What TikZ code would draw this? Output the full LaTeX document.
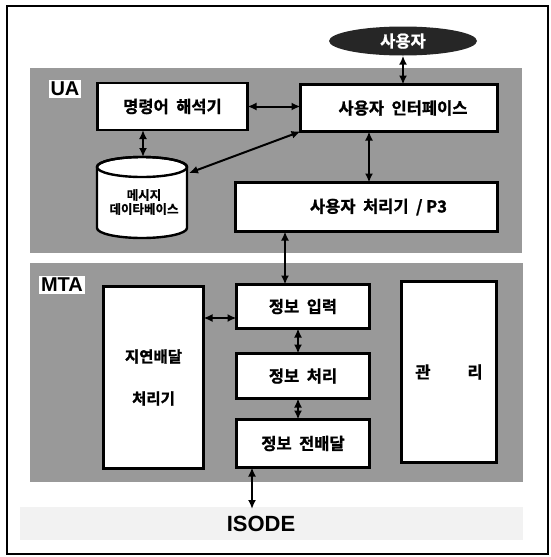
\documentclass[tikz,border=0pt]{standalone}
\usepackage{fontspec}
\setmainfont{Liberation Sans}
\newfontfamily\kr{Noto Sans CJK KR Bold}[FakeBold=1.2]
\usetikzlibrary{arrows.meta,shapes.geometric}
\begin{document}
\begin{tikzpicture}[x=1pt,y=-1pt,
  box/.style={draw, line width=2.6pt, fill=white, inner sep=0pt, outer sep=0pt,
    align=center, font=\kr\fontsize{16.5}{19}\selectfont},
  conn/.style={line width=2pt, {Latex[length=9pt,width=8pt]}-{Latex[length=9pt,width=8pt]}},
  region/.style={fill=black!40},
  faint/.style={fill=black!5},
  tag/.style={fill=white, inner sep=2pt, font=\bfseries\fontsize{20}{22}\selectfont}]
\useasboundingbox (0,0) rectangle (551,557);
\draw[line width=2pt] (7,6) rectangle (548,554);
\fill[region] (30,68) rectangle (522,253);
\fill[region] (30,263) rectangle (523,482);
\fill[faint] (20,507) rectangle (523,540);

% labels
\node[tag] (ua) at (65,89) {UA};
\node[tag] (mta) at (62,285) {MTA};

% user ellipse
\node[ellipse, fill=black!85, minimum width=148pt, minimum height=29pt, inner sep=0pt,
  text=white, font=\kr\fontsize{16.5}{19}\selectfont] (user) at (403,41) {사용자};

% UA boxes
\node[box, minimum width=150pt, minimum height=47pt] (cmd) at (172.5,106.5) {명령어\ \ 해석기};
\node[box, minimum width=197pt, minimum height=47pt] (ui) at (399,108) {\hspace{8pt}사용자\ \ 인터페이스};
\node[box, minimum width=262pt, minimum height=49pt] (p3) at (366.5,207) {\hspace{24pt}사용자\ \ 처리기\ \ /\ P3};

% database cylinder
\draw[line width=2.4pt, fill=white] (97,167) -- (97,228)
  arc[start angle=180, end angle=360, x radius=45pt, y radius=10pt] -- (187,167)
  arc[start angle=0, end angle=180, x radius=45pt, y radius=10pt] -- cycle;
\draw[line width=2.4pt] (142,167) ellipse [x radius=45pt, y radius=10pt];
\node[font=\kr\fontsize{12.5}{14}\selectfont, align=center, inner sep=0pt] (db) at (144,202) {메시지\\데이타베이스};
\coordinate (dbtop) at (143,157);
\coordinate (dbright) at (189,173);

% MTA boxes
\node[box, minimum width=100pt, minimum height=182pt, font=\kr\fontsize{15.5}{18}\selectfont] (delay) at (153.5,377.5) {지연배달\\[24pt]처리기};
\node[box, minimum width=133pt, minimum height=44pt] (in) at (303,306.5) {정보\ \ 입력};
\node[box, minimum width=133pt, minimum height=45pt] (proc) at (303,376) {정보\ \ 처리};
\node[box, minimum width=133pt, minimum height=48pt] (out) at (303,443.5) {정보\ \ 전배달};
\node[box, minimum width=95pt, minimum height=181pt] (mgmt) at (449,372) {관\hspace{37pt}리};

\node[font=\bfseries\fontsize{22}{24}\selectfont, inner sep=0pt] (iso) at (261,524) {ISODE};

% helper coordinates
\coordinate (xa) at (369,0);
\coordinate (xb) at (285,0);
\coordinate (xc) at (298,0);
\coordinate (xd) at (252,0);
\coordinate (ya) at (0,318);
\coordinate (yb) at (0,509);

% connectors
\draw[conn] (user.south) -- (user.south |- ui.north);
\draw[conn] (cmd.east) -- (cmd.east -| ui.west);
\draw[conn] (cmd.south -| dbtop) -- (dbtop);
\draw[conn] (ui.south west) -- (dbright);
\draw[conn] (xa |- ui.south) -- (xa |- p3.north);
\draw[conn] (xb |- p3.south) -- (xb |- in.north);
\draw[conn] (xc |- in.south) -- (xc |- proc.north);
\draw[conn] (xc |- proc.south) -- (xc |- out.north);
\draw[conn] (delay.east |- ya) -- (in.west |- ya);
\draw[conn] (xd |- out.south) -- (xd |- yb);
\end{tikzpicture}
\end{document}
